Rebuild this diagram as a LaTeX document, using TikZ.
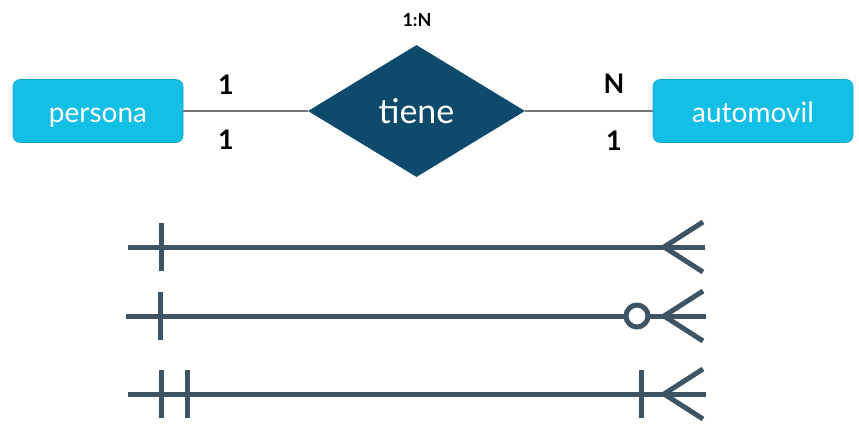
\documentclass[tikz,border=0pt]{standalone}
\usepackage{fontspec}
\setmainfont{Lato}
\usetikzlibrary{shapes.geometric,calc}
\definecolor{entcyan}{HTML}{14BFE6}
\definecolor{reldark}{HTML}{0E4A6B}
\definecolor{slate}{HTML}{3E5465}
\definecolor{conn}{HTML}{777777}
\tikzset{
  entity/.style={draw=entcyan!85!black, line width=0.6pt, fill=entcyan, rounded corners=7pt,
    minimum width=170pt, minimum height=63pt, inner sep=0pt, text=white,
    text height=22pt, text depth=0pt, font=\fontsize{28}{32}\selectfont},
  relation/.style={diamond, fill=reldark, aspect=1.64, minimum width=217pt, minimum height=132pt,
    inner sep=0pt, text=white, font=\fontsize{34}{38}\selectfont},
  conn/.style={draw=conn, line width=1.2pt},
  card/.style={font=\bfseries\fontsize{27}{30}\selectfont, text=black, inner sep=0pt},
  cardsmall/.style={font=\bfseries\fontsize{18}{20}\selectfont, text=black, inner sep=0pt},
  notation/.style={draw=slate, line width=5pt},
}
\begin{document}
\begin{tikzpicture}[x=1pt,y=-1pt]
\useasboundingbox (0,0) rectangle (859,429);
\node[entity] (persona) at (98,111) {persona};
\node[relation] (tiene) at (416.5,111) {tiene};
\node[entity, minimum width=200pt] (automovil) at (753,111) {automovil};
\draw[conn] (persona.east) -- (tiene.west);
\draw[conn] (tiene.east) -- (automovil.west);
\node[card] (c1) at (226,85) {1};
\node[card] (c2) at (226,140) {1};
\node[card] (c3) at (614,84) {N};
\node[card] (c4) at (614,141) {1};
\node[cardsmall] (ratio) at (417,20) {1:N};
% notation line 1
\coordinate (a1) at (128,247);
\coordinate (b1) at (705,247);
\coordinate (f1) at (664,247);
\draw[notation] (a1) -- (b1);
\draw[notation] (161,223) -- (161,271);
\draw[notation] (703,222) -- (f1) -- (703,272);
% notation line 2
\coordinate (a2) at (126,316);
\coordinate (b2) at (706,316);
\coordinate (f2) at (664,316);
\coordinate (o2) at (637,316);
\draw[notation] (a2) -- ($(o2)+(-11,0)$);
\draw[notation] ($(o2)+(11,0)$) -- (b2);
\draw[notation] (o2) circle (11);
\draw[notation] (160,292) -- (160,340);
\draw[notation] (703,291) -- (f2) -- (703,341);
% notation line 3
\coordinate (a3) at (128,394);
\coordinate (b3) at (706,394);
\coordinate (f3) at (664,394);
\draw[notation] (a3) -- (b3);
\draw[notation] (161,370) -- (161,418);
\draw[notation] (187,370) -- (187,418);
\draw[notation] (641,370) -- (641,418);
\draw[notation] (703,369) -- (f3) -- (703,419);
\end{tikzpicture}
\end{document}
